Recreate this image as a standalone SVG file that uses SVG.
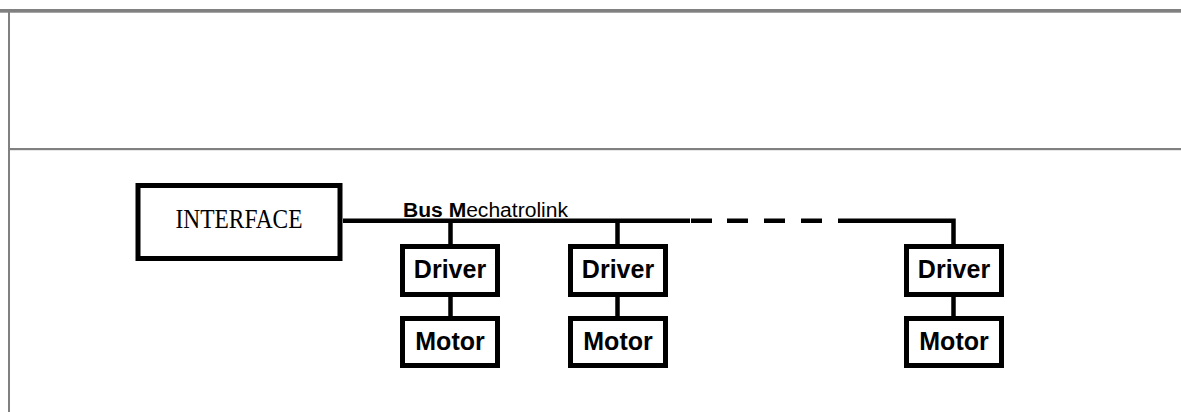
<svg xmlns="http://www.w3.org/2000/svg" width="1181" height="412" viewBox="0 0 1181 412">
<style>
.frame{fill:#808080}
.box{fill:#fff;stroke:#000;stroke-width:5}
.wire{fill:none;stroke:#000;stroke-width:4.5}
.lbl{font-family:"Liberation Sans",Arial,sans-serif;font-weight:bold;font-size:25px;text-anchor:middle;fill:#000}
</style>
<rect width="1181" height="412" fill="#fff"/>
<g id="frame">
<rect class="frame" x="0" y="9" width="1181" height="3.7"/>
<rect class="frame" x="8" y="12" width="2" height="400"/>
<rect class="frame" x="8" y="148" width="1173" height="2.2"/>
</g>
<g id="connectors">
<path class="wire" d="M343 220.7H690"/>
<path class="wire" d="M691 220.7H712M727 220.7H748M764 220.7H785M801 220.7H822"/>
<path class="wire" d="M838 220.7H953.5V244"/>
<path class="wire" d="M450.5 220.7V244"/>
<path class="wire" d="M617.5 220.7V244"/>
<path class="wire" d="M450.5 297V316"/>
<path class="wire" d="M617.5 297V316"/>
<path class="wire" d="M953.5 297V316"/>
</g>
<g id="bus-label">
<text x="403" y="217" font-family="Liberation Sans, Arial, sans-serif" font-size="19.5" textLength="165" lengthAdjust="spacingAndGlyphs"><tspan font-weight="bold">Bus M</tspan>echatrolink</text>
</g>
<g id="interface">
<rect class="box" x="138" y="185.5" width="202" height="73"/>
<text x="239" y="228" font-family="Liberation Serif, Times New Roman, serif" font-size="28" text-anchor="middle" textLength="127" lengthAdjust="spacingAndGlyphs">INTERFACE</text>
</g>
<g id="driver1"><rect class="box" x="402.5" y="246.5" width="95" height="48"/><text class="lbl" x="450" y="278">Driver</text></g>
<g id="motor1"><rect class="box" x="402.5" y="318.5" width="95" height="47"/><text class="lbl" x="450" y="350">Motor</text></g>
<g id="driver2"><rect class="box" x="570.5" y="246.5" width="95" height="48"/><text class="lbl" x="618" y="278">Driver</text></g>
<g id="motor2"><rect class="box" x="570.5" y="318.5" width="95" height="47"/><text class="lbl" x="618" y="350">Motor</text></g>
<g id="driver3"><rect class="box" x="906.5" y="246.5" width="95" height="48"/><text class="lbl" x="954" y="278">Driver</text></g>
<g id="motor3"><rect class="box" x="906.5" y="318.5" width="95" height="47"/><text class="lbl" x="954" y="350">Motor</text></g>
</svg>
